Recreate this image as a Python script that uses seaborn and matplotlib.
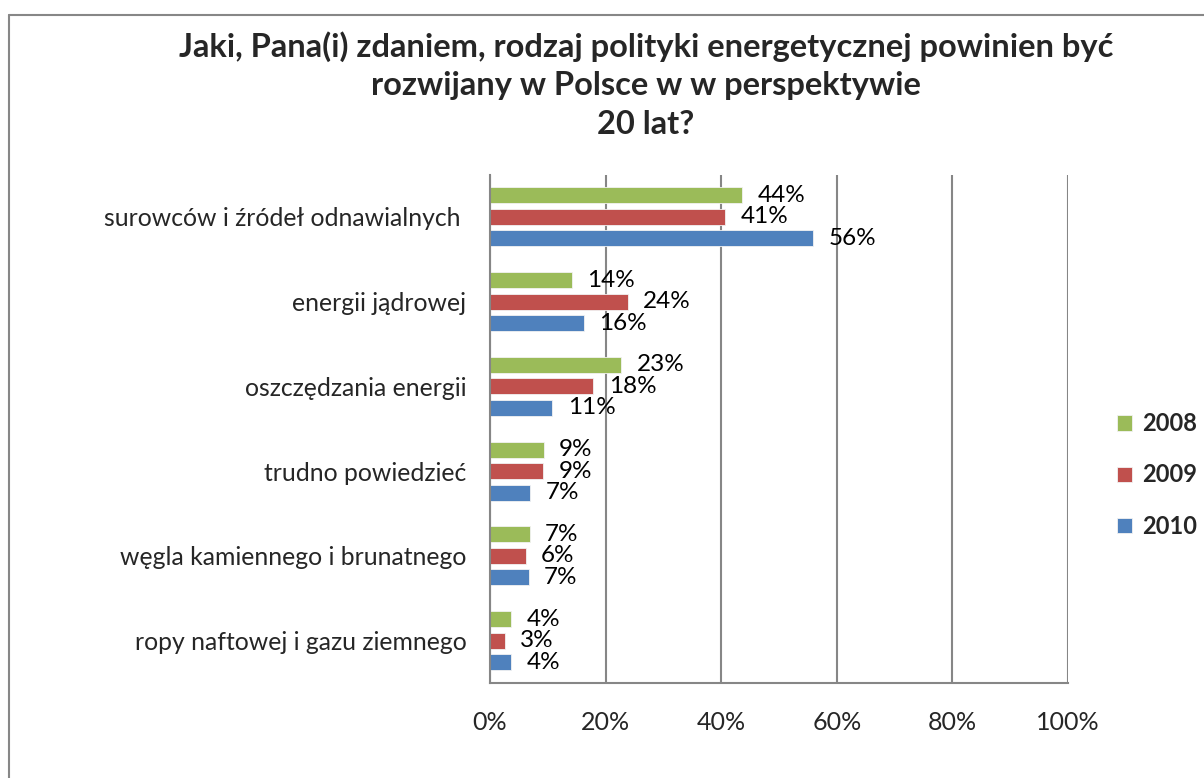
import numpy as np
import pandas as pd
import seaborn as sns
import matplotlib.pyplot as plt
from matplotlib.lines import Line2D

# values (percent)
categories = [
    "surowców i źródeł odnawialnych ",
    "energii jądrowej",
    "oszczędzania energii",
    "trudno powiedzieć",
    "węgla kamiennego i brunatnego",
    "ropy naftowej i gazu ziemnego",
]
years = ["2008", "2009", "2010"]
v2008 = [43.6, 14.2, 22.7, 9.3, 6.9, 3.7]
v2009 = [40.7, 23.8, 17.9, 9.2, 6.2, 2.6]
v2010 = [55.9, 16.3, 10.8, 7.0, 6.7, 3.7]
colors = ["#9BBB59", "#C0504D", "#4F81BD"]
x_ticks = [0, 20, 40, 60, 80, 100]

df = pd.DataFrame({
    "kategoria": categories * 3,
    "rok": np.repeat(years, len(categories)),
    "wartosc": v2008 + v2009 + v2010,
})

sns.set_theme(style="white")
plt.rcParams["font.family"] = ["Lato", "DejaVu Sans"]

W, H = 1204, 778
fig = plt.figure(figsize=(W / 100, H / 100), dpi=100)
ax = fig.add_axes([490 / W, 1 - 683 / H, 578 / W, 508.5 / H])

grey = "#868686"
sns.barplot(data=df, y="kategoria", x="wartosc", hue="rok", hue_order=years,
            order=categories, palette=colors, saturation=1, orient="h",
            width=0.76, gap=0.25, edgecolor="#f2f2f2", linewidth=0.6,
            ax=ax, legend=True)

for cont in ax.containers:
    ax.bar_label(cont, labels=[f"{v:.0f}%" for v in cont.datavalues],
                 padding=11, fontsize=17.5, color="black")

ax.set_xlim(0, 100)
ax.set_xticks(x_ticks)
ax.set_xticklabels([f"{t}%" for t in x_ticks], fontsize=18)
ax.set_xlabel("")
ax.set_ylabel("")
ax.tick_params(axis="y", which="major", length=0, pad=17, labelsize=17.8)
ax.set_yticks(np.arange(-0.5, len(categories), 1), minor=True)
ax.tick_params(axis="y", which="minor", length=5, width=1.5, color=grey, direction="out")
ax.tick_params(axis="x", length=5, width=1.5, color=grey, direction="out", pad=15)
ax.xaxis.grid(True, color=grey, linewidth=1.5)
ax.set_axisbelow(True)
for side in ["top", "right"]:
    ax.spines[side].set_visible(False)
for side in ["left", "bottom"]:
    ax.spines[side].set_color(grey)
    ax.spines[side].set_linewidth(1.5)

handles, labels = ax.get_legend_handles_labels()
ax.legend(handles, labels, loc="center left",
          bbox_to_anchor=(1096 / W, 1 - 475 / H), bbox_transform=fig.transFigure,
          frameon=False, prop={"weight": "bold", "size": 17},
          handlelength=0.62, handleheight=0.62, handletextpad=0.45, labelspacing=1.2)

fig.text(646 / W, 1 - 85 / H,
         "Jaki, Pana(i) zdaniem, rodzaj polityki energetycznej powinien być\n"
         "rozwijany w Polsce w w perspektywie\n20 lat?",
         ha="center", va="center", fontsize=23.5, fontweight="bold", linespacing=1.4)

# chart frame (only top and left edges fall inside the picture)
fig.add_artist(Line2D([8.5 / W, 1.01], [1 - 14.5 / H, 1 - 14.5 / H],
                      transform=fig.transFigure, color="#878787", lw=1.5))
fig.add_artist(Line2D([8.5 / W, 8.5 / W], [-0.01, 1 - 14.5 / H],
                      transform=fig.transFigure, color="#878787", lw=1.5))

fig.savefig("out.png", dpi=100)
